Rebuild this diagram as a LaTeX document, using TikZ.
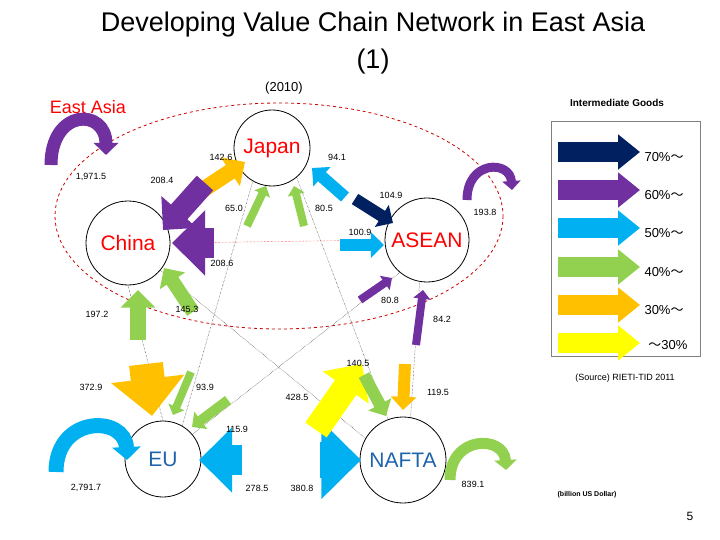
\documentclass[tikz,border=0pt]{standalone}
\usepackage{fontspec}
\setmainfont{Liberation Sans}
\newfontfamily\cjk{Noto Sans CJK JP}
\usetikzlibrary{arrows.meta}
\definecolor{cnavy}{RGB}{0,32,96}
\definecolor{cpurple}{RGB}{112,48,160}
\definecolor{cblue}{RGB}{0,176,240}
\definecolor{cgreen}{RGB}{146,208,80}
\definecolor{corange}{RGB}{255,192,0}
\definecolor{cyellow}{RGB}{255,255,0}
\newcommand\flow[4]{\draw[#1, line width=#2pt, -{Triangle[length=#2*1.1pt, width=#2*2.1pt]}] #3 -- #4;}
\tikzset{
  region/.style={circle, draw, thick, minimum size=#1pt, inner sep=0pt, font=\fontsize{21}{21}\selectfont},
  val/.style={font=\fontsize{9}{9}\selectfont},
  dots/.style={densely dotted, thin},
}
\begin{document}
\begin{tikzpicture}[x=1pt,y=-1pt]
        \useasboundingbox (0,0) rectangle (720,540);
        \node (title) at (373,43) [align=center, font=\fontsize{27}{37}\selectfont] {Developing Value Chain Network in East Asia\\(1)};
        \node (year) at (284,88) [font=\fontsize{13}{13}\selectfont] {(2010)};
        \node (ea) at (88,107) [text=red, font=\fontsize{18}{18}\selectfont] {East Asia};
        \draw[red!80!black, dashed, thick] (279,216) ellipse (224 and 113);

        \node[region=76, text=red] (japan) at (272,148) {Japan};
        \node[region=84, text=red] (china) at (128,243) {China};
        \node[region=84, text=red] (asean) at (427,240) {ASEAN};
        \node[region=76, text={rgb,255:red,30;green,100;blue,170}] (eu) at (163,459) {EU};
        \node[region=86, text={rgb,255:red,30;green,100;blue,170}] (nafta) at (403,460) {NAFTA};

        % dotted guide lines
        \draw[dots, red] (china.east) -- (asean.west);
        \draw[dots] (eu.north) -- (china.south);
        \draw[dots] (eu.60) -- (japan.-120);
        \draw[dots] (china.-40) -- (nafta.150);
        \draw[dots] (japan.-50) -- (nafta.110);
        \draw[dots] (asean.-130) -- (eu.40);
        \draw[dots] (asean.-100) -- (nafta.80);

        % flows
        \flow{corange}{16}{(192,197)}{(245,162)}
        \flow{cpurple}{22}{(205,183)}{(163,230)}
        \flow{cpurple}{30}{(214,243)}{(172,243)}
        \flow{cblue}{12}{(340,245)}{(384,245)}
        \flow{cgreen}{8}{(247,226)}{(266,186)}
        \flow{cgreen}{8}{(304,226)}{(294,186)}
        \flow{cblue}{12}{(345,197)}{(312,168)}
        \flow{cnavy}{12}{(355,199)}{(393,223)}
        \flow{cgreen}{14}{(193,312)}{(164,268)}
        \flow{cgreen}{16}{(138,340)}{(138,290)}
        \flow{cpurple}{8}{(360,300)}{(392,278)}
        \flow{cpurple}{8}{(416,345)}{(423,290)}
        \flow{corange}{34}{(146,364)}{(152,416)}
        \flow{cgreen}{8}{(191,372)}{(173,415)}
        \flow{cgreen}{10}{(228,400)}{(192,427)}
        \flow{cblue}{30}{(242,460)}{(199,460)}
        \flow{cblue}{36}{(320,460)}{(361,460)}
        \flow{cyellow}{26}{(316,430)}{(362,364)}
        \flow{cgreen}{12}{(364,375)}{(386,416)}
        \flow{corange}{12}{(405,364)}{(403,410)}

        % self loops
        \draw[cpurple, line width=13pt, -{Triangle[length=12pt, width=24pt]}] (51,165) .. controls (51,108) and (106,108) .. (106,155);
        \draw[cpurple, line width=9pt, -{Triangle[length=9pt, width=18pt]}] (467,200) .. controls (467,160) and (510,160) .. (512,190);
        \draw[cblue, line width=15pt, -{Triangle[length=13pt, width=28pt]}] (56,472) .. controls (56,415) and (125,415) .. (127,460);
        \draw[cgreen, line width=11pt, -{Triangle[length=10pt, width=22pt]}] (450,480) .. controls (450,435) and (504,435) .. (506,470);

        % values
        \foreach \t/\x/\y in {142.6/221/157, 94.1/337/157, {1,971.5}/91/177, 208.4/162/180, 104.9/391/195,
            65.0/234/208, 80.5/324/208, 193.8/485/212, 100.9/360/232, 208.6/222/263,
            80.8/390/300, 197.2/97/314, 145.3/187/309, 84.2/442/319, 140.5/358/363,
            372.9/91/387, 93.9/205/387, 119.5/438/392, 428.5/297/397, 115.9/237/429,
            {2,791.7}/86/488, 278.5/257/488, 380.8/302/488, 839.1/473/484}
            \node[val] at (\x,\y) {\t};

        % legend
        \node (ig) at (617,103) [font=\bfseries\fontsize{10}{10}\selectfont] {Intermediate Goods};
        \draw[gray, thick] (551,121) rectangle (700,356);
        \foreach \c/\y/\t in {cnavy/152/70, cpurple/190/60, cblue/228/50, cgreen/267/40, corange/305/30}
          {\draw[\c, line width=20pt, -{Triangle[length=22pt, width=34pt]}] (558,\y) -- (640,\y);
           \node[anchor=west, font=\fontsize{13}{13}\selectfont] at (641,\y+5) {\t\%{\cjk ～}};}
        \draw[cyellow, line width=20pt, -{Triangle[length=22pt, width=34pt]}] (558,343) -- (640,343);
        \node[font=\fontsize{13}{13}\selectfont] at (668,345) {{\cjk ～}30\%};
        \node (src) at (625,378) [font=\fontsize{9}{9}\selectfont] {(Source) RIETI-TID 2011};
        \node (unit) at (587,495) [font=\bfseries\fontsize{7}{7}\selectfont] {(billion US Dollar)};
        \node (pg) at (690,516) [font=\fontsize{12}{12}\selectfont] {5};
\end{tikzpicture}
\end{document}
